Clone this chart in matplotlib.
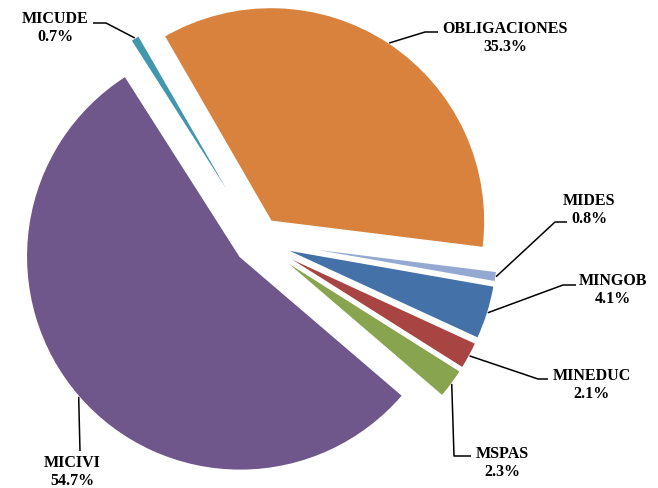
import numpy as np
from matplotlib import pyplot as plt

# data
labels = ["OBLIGACIONES", "MIDES", "MINGOB", "MINEDUC", "MSPAS", "MICIVI", "MICUDE"]
shares = [35.3, 0.8, 4.1, 2.1, 2.3, 54.7, 0.7]

# styling
colors = ["#D9823E", "#93A9D2", "#4471A7", "#A84441", "#89A44E", "#6F578C", "#4197AE"]
explode = [0.11, 0.125, 0.125, 0.125, 0.125, 0.11, 0.11]

W, H = 658, 489
cx, cy, R = 258, 242, 214  # pie centre and radius in pixels


def px(x, y):
    # pixel (from top-left) -> data units
    return (x - cx) / R, (cy - y) / R


# label block centre and leader elbow points (pixels)
label_pos = {
    "OBLIGACIONES": ((505, 38), [(425, 33), (438, 33)]),
    "MIDES": ((589, 210), [(555, 223), (567, 223)]),
    "MINGOB": ((613, 290), [(563, 286), (576, 286)]),
    "MINEDUC": ((592, 385), [(538, 380), (548, 380)]),
    "MSPAS": ((502, 463), [(454, 457), (471, 457)]),
    "MICIVI": ((72, 472), [(80, 452)]),
    "MICUDE": ((55, 28), [(106, 24), (93, 24)]),
}

fig = plt.figure(figsize=(W / 100, H / 100), dpi=100)
ax = fig.add_axes([0, 0, 1, 1])

wedges, _ = ax.pie(
    shares,
    colors=colors,
    explode=explode,
    startangle=120,
    counterclock=False,
    radius=1,
    wedgeprops=dict(edgecolor="white", linewidth=1.2),
)

ax.set_xlim(-cx / R, (W - cx) / R)
ax.set_ylim(-(H - cy) / R, cy / R)
ax.set_aspect("auto")
ax.axis("off")

for w, name, val in zip(wedges, labels, shares):
    theta = np.deg2rad((w.theta1 + w.theta2) / 2)
    ax0 = w.center[0] + w.r * np.cos(theta)
    ay0 = w.center[1] + w.r * np.sin(theta)
    (tx, ty), elbow = label_pos[name]
    pts = [(ax0, ay0)] + [px(*p) for p in elbow]
    xs, ys = zip(*pts)
    ax.plot(xs, ys, color="black", lw=1.1, solid_capstyle="butt")
    ax.text(*px(tx, ty), f"{name}\n{val:.1f}%", ha="center", va="center",
            multialignment="center", family="Liberation Serif", weight="bold",
            fontsize=11.5, linespacing=1.2)

fig.savefig("out.png", dpi=100)
